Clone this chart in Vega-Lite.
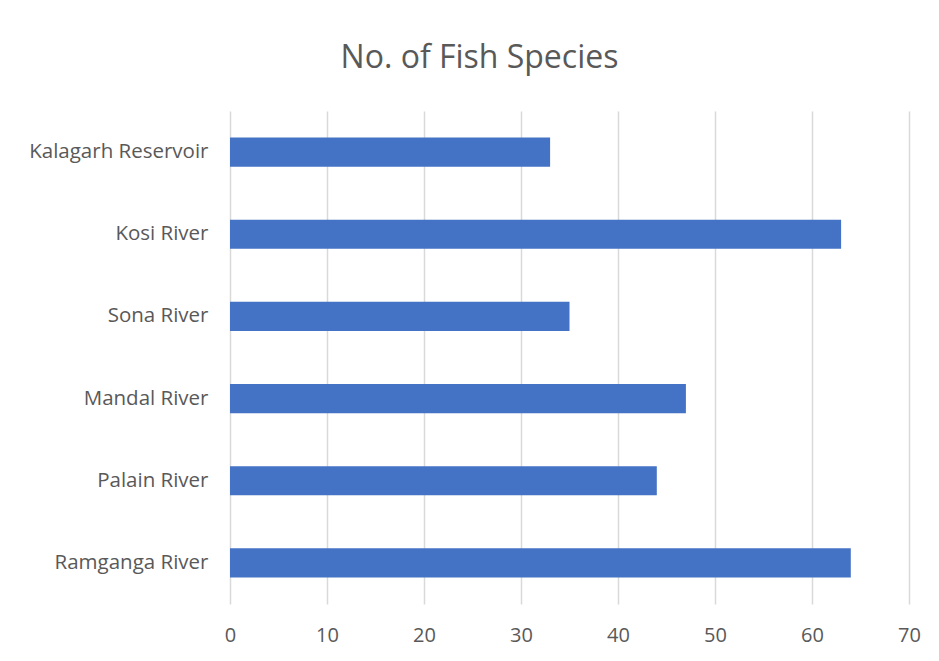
{
  "$schema": "https://vega.github.io/schema/vega-lite/v6.json",
  "autosize": {"type": "none"},
  "width": 679,
  "height": 493,
  "padding": {"left": 230, "top": 111, "right": 30, "bottom": 57},
  "background": "white",
  "title": {
    "text": "No. of Fish Species",
    "font": "Open Sans",
    "fontSize": 32,
    "fontWeight": "normal",
    "color": "#595959",
    "anchor": "middle",
    "dx": -90,
    "baseline": "alphabetic",
    "offset": 11
  },
  "data": {
    "values": [
      {"site": "Kalagarh Reservoir", "species": 33},
      {"site": "Kosi River", "species": 63},
      {"site": "Sona River", "species": 35},
      {"site": "Mandal River", "species": 47},
      {"site": "Palain River", "species": 44},
      {"site": "Ramganga River", "species": 64}
    ]
  },
  "mark": {"type": "bar", "color": "#4472C4"},
  "encoding": {
    "y": {
      "field": "site",
      "type": "nominal",
      "sort": null,
      "scale": {"paddingInner": 0.645, "paddingOuter": 0.3225},
      "axis": {
        "title": null,
        "domain": false,
        "ticks": false,
        "labelFont": "Open Sans",
        "labelFontSize": 20.5,
        "labelColor": "#595959",
        "labelPadding": 22,
        "grid": false
      }
    },
    "x": {
      "field": "species",
      "type": "quantitative",
      "scale": {"domain": [0, 70], "nice": false},
      "axis": {
        "title": null,
        "values": [0, 10, 20, 30, 40, 50, 60, 70],
        "domain": false,
        "ticks": false,
        "grid": true,
        "gridColor": "#d9d9d9",
        "gridWidth": 1.5,
        "labelFlush": false,
        "labelFont": "Open Sans",
        "labelFontSize": 20,
        "labelColor": "#595959",
        "labelPadding": 21
      }
    }
  },
  "config": {"view": {"stroke": null}}
}
